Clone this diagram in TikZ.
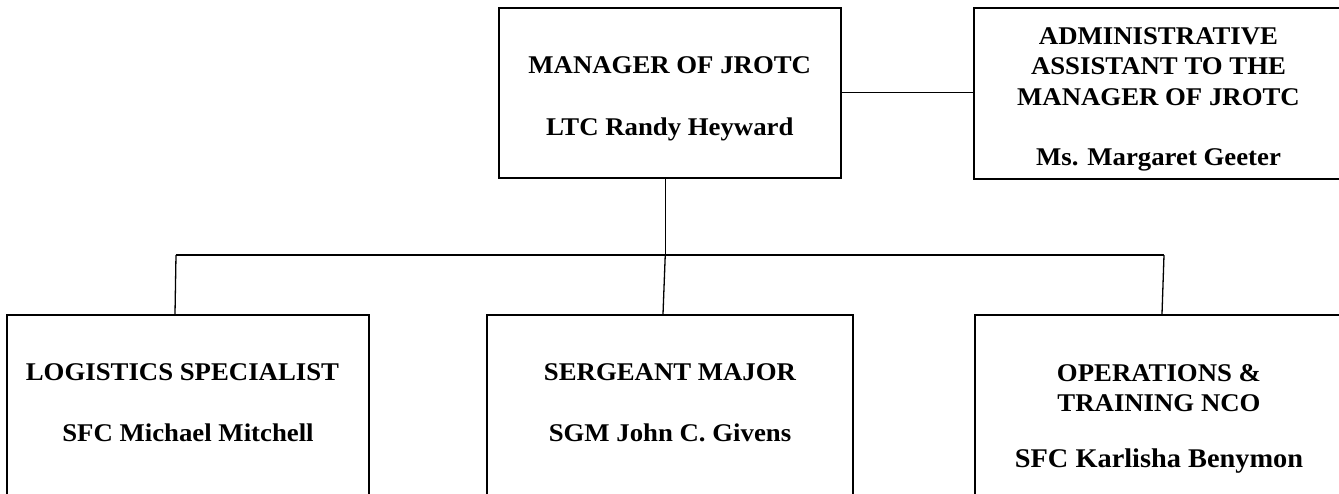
\documentclass[tikz,border=0pt]{standalone}
\usepackage{fontspec}
\setmainfont{Liberation Serif}[FakeStretch=1.05]
\usetikzlibrary{positioning}

\begin{document}
\begin{tikzpicture}[x=1pt, y=-1pt, line join=miter,
  post/.style={draw, line width=2pt, inner sep=0pt},
  title/.style={align=center, inner sep=0pt, font=\fontsize{25.5}{30.5}\selectfont\bfseries},
  link/.style={line width=1.3pt},
  bus/.style={line width=1.7pt}]

\useasboundingbox (0, 0) rectangle (1339, 493);
\clip (0, 0) rectangle (1339, 493);

% top row

\node [post, minimum width=342.5pt, minimum height=170.5pt] at (669.75, 92.75) (mgr) {};
\node [title, below=50pt of mgr.north] (mgr-text) {MANAGER OF JROTC \\[31pt] LTC Randy Heyward};

\node [post, minimum width=367pt, minimum height=171pt] at (1157.5, 93.5) (aide) {};
\node [title, below=20pt of aide.north, xshift=1pt] (aide-text) {ADMINISTRATIVE \\ ASSISTANT TO THE \\ MANAGER OF JROTC \\[30pt] Ms. Margaret Geeter};

\path [draw, link] (mgr.east) to (mgr.east -| aide.west);

% bottom row

\node [post, minimum width=362pt, minimum height=220pt] at (188, 425) (logi) {};
\node [title, below=49pt of logi.north] (logi-text) {LOGISTICS SPECIALIST\hspace*{11pt} \\[31pt] SFC Michael Mitchell};

\node [post, minimum width=366pt, minimum height=220pt] at (670, 425) (sgm) {};
\node [title, below=49pt of sgm.north] (sgm-text) {SERGEANT MAJOR \\[31pt] SGM John C. Givens};

\node [post, minimum width=366pt, minimum height=220pt] at (1158, 425) (ops) {};
\node [title, below=50pt of ops.north, xshift=1pt] (ops-text) {OPERATIONS \& \\ TRAINING NCO \\[25pt] {\fontsize{27}{31}\selectfont SFC Karlisha Benymon}};

% bus

\coordinate (bus-west) at (176, 255);
\coordinate (bus-east) at (1164, 255);
\path [draw, bus] (bus-west) to (bus-east);
\path [draw, link] ([xshift=-4.5pt]mgr.south) to ([xshift=-4.5pt]mgr.south |- bus-west);
\path [draw, link] (bus-west) to ([xshift=-13pt]logi.north);
\path [draw, link] ([xshift=-4.5pt]mgr.south |- bus-west) to ([xshift=-7pt]sgm.north);
\path [draw, link] (bus-east) to ([xshift=4pt]ops.north);

\end{tikzpicture}
\end{document}
